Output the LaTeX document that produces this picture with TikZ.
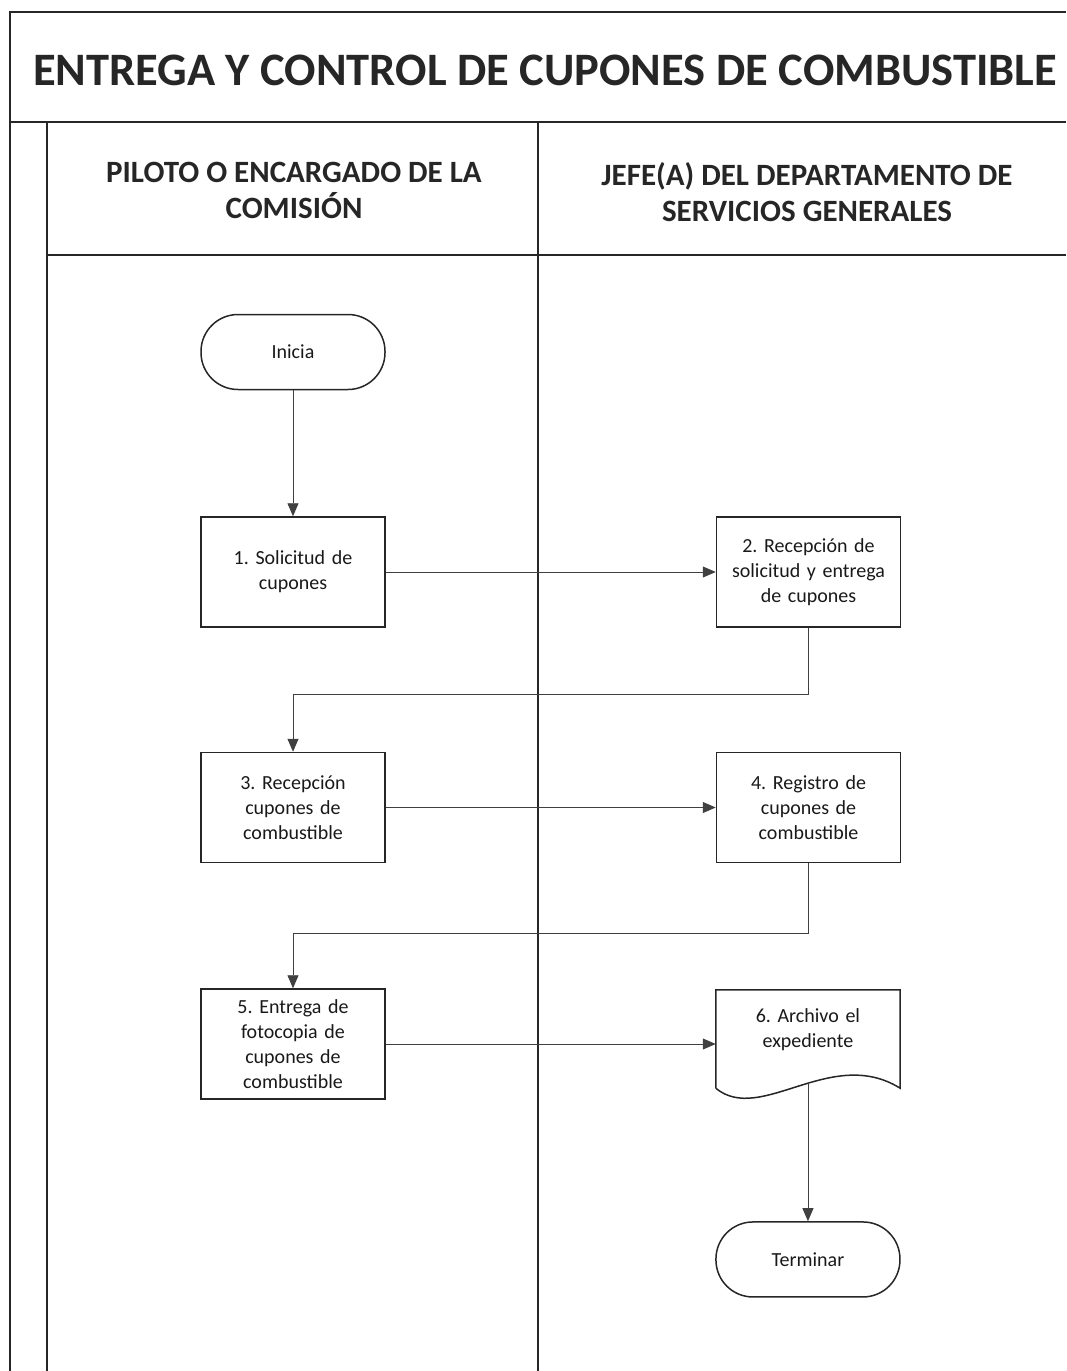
\documentclass[tikz,border=0pt]{standalone}
\usepackage{fontspec}
\setmainfont{Carlito}
\frenchspacing
\usetikzlibrary{arrows.meta, positioning}
\tikzstyle{process} = [rectangle, minimum width=184pt, minimum height=110pt, text width=172pt, align=center, draw=black!85, line width=1.5pt, text=black!90, font=\fontsize{20}{25}\selectfont]
\tikzstyle{startstop} = [rectangle, rounded corners=37pt, minimum width=184pt, minimum height=75pt, text centered, draw=black!85, line width=1.5pt, text=black!90, font=\fontsize{20}{25}\selectfont]
\tikzstyle{docu} = [rectangle, minimum width=184pt, minimum height=98pt, text width=172pt, align=center, text=black!90, font=\fontsize{20}{25}\selectfont]
\tikzstyle{arrow} = [line width=0.9pt, draw=black!75, -{Triangle[length=13pt,width=11pt]}]
\tikzstyle{frame} = [line width=1.6pt, draw=black!85]
\tikzstyle{lanehead} = [align=center, text=black!85, font=\bfseries\fontsize{31}{36}\selectfont]

\begin{document}
\begin{tikzpicture}[x=1pt, y=-1pt]
\useasboundingbox (0,0) rectangle (1066,1371);

% frame and lanes
\draw [frame] (10,1371) -- (10,12) -- (1066,12);
\draw [frame] (10,122) -- (1066,122);
\draw [frame] (47,122) -- (47,1371);
\draw [frame] (538,122) -- (538,1371);
\draw [frame] (47,255) -- (1066,255);

\node (title) at (545,70) [text=black!85, font=\bfseries\fontsize{46.5}{50}\selectfont] {ENTREGA Y CONTROL DE CUPONES DE COMBUSTIBLE};
\node (lanepiloto) at (294,190) [lanehead] {PILOTO O ENCARGADO DE LA\\COMISIÓN};
\node (lanejefe) at (807,192) [lanehead] {JEFE(A) DEL DEPARTAMENTO DE\\SERVICIOS GENERALES};

\node (start) at (293,352) [startstop] {Inicia};
\node (s1) [process, below=126pt of start] {1. Solicitud de\\cupones};
\node (s2) [process, right=330pt of s1] {2. Recepción de\\solicitud y entrega\\de cupones};
\node (s3) [process, below=124pt of s1] {3. Recepción\\cupones de\\combustible};
\node (s4) [process, right=330pt of s3] {4. Registro de\\cupones de\\combustible};
\node (s5) [process, below=125pt of s3] {5. Entrega de\\fotocopia de\\cupones de\\combustible};
\node (s6) [docu, right=330pt of s5, yshift=5pt] {6. Archivo el\\expediente\\[-4pt]\mbox{}};
\node (stop) [startstop, below=133pt of s6] {Terminar};

% document outline
\draw [line width=1.5pt, draw=black!85] (s6.south west) -- (s6.north west) -- (s6.north east) -- (s6.south east) .. controls +(-69,-43) and +(45,37) .. (s6.south west);

\draw [arrow] (start) -- (s1);
\draw [arrow] (s1) -- (s2);
\draw [arrow] (s2.south) -- ++(0,67) -| (s3.north);
\draw [arrow] (s3) -- (s4);
\draw [arrow] (s4.south) -- ++(0,70) -| (s5.north);
\draw [arrow] (s5.east) -- (s5.east -| s6.west);
\draw [arrow] ([yshift=6pt]s6.south) -- (stop);
\end{tikzpicture}
\end{document}
